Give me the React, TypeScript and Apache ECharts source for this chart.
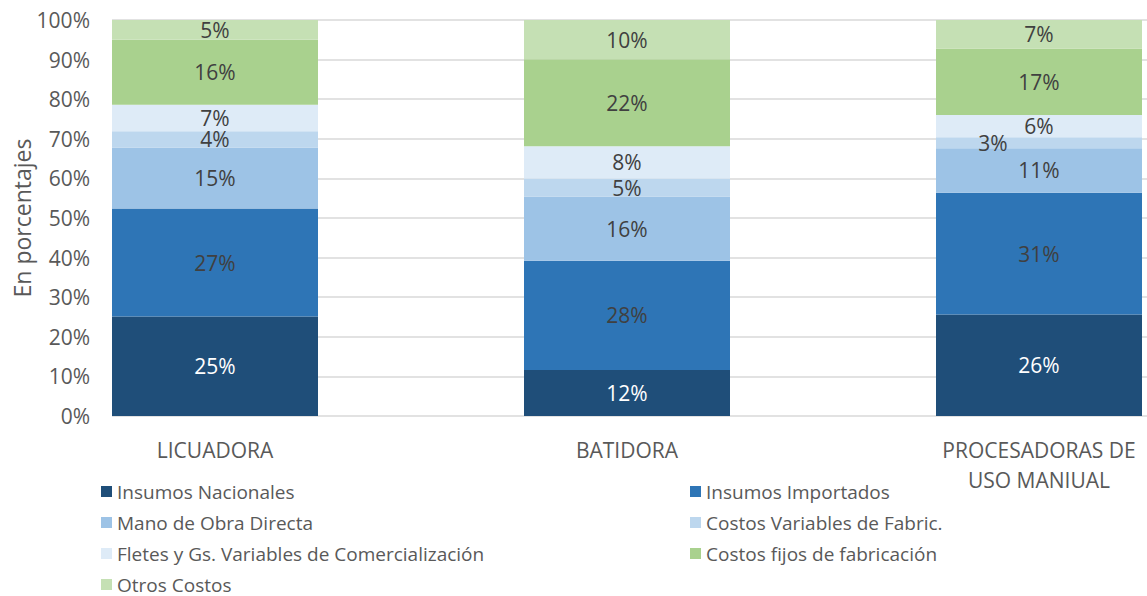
import React, { useEffect, useRef } from "react";
import * as echarts from "echarts";

const categories = ["LICUADORA", "BATIDORA", "PROCESADORAS DE\nUSO MANIUAL"];
const seriesNames = [
  "Insumos Nacionales",
  "Insumos Importados",
  "Mano de Obra Directa",
  "Costos Variables de Fabric.",
  "Fletes y Gs. Variables de Comercialización",
  "Costos fijos de fabricación",
  "Otros Costos",
];
const insumosNacionales = [25.1, 11.6, 25.6];
const insumosImportados = [27.3, 27.6, 30.8];
const manoDeObraDirecta = [15.4, 16.2, 11.2];
const costosVariables = [4.1, 4.6, 2.8];
const fletesComercializacion = [6.7, 8.1, 5.6];
const costosFijos = [16.4, 22.0, 16.8];
const otrosCostos = [5.0, 9.9, 7.2];
const seriesValues = [
  insumosNacionales,
  insumosImportados,
  manoDeObraDirecta,
  costosVariables,
  fletesComercializacion,
  costosFijos,
  otrosCostos,
];
const yAxisTitle = "En porcentajes";
const colors = ["#1F4E79", "#2E75B6", "#9DC3E6", "#BDD7EE", "#DEEBF7", "#A9D18E", "#C5E0B4"];
const leftLegend = [seriesNames[0], seriesNames[2], seriesNames[4], seriesNames[6]];
const rightLegend = [seriesNames[1], seriesNames[3], seriesNames[5]];

const FONT = "'Open Sans', 'Noto Sans', sans-serif";
const GRAY = "#595959";

export default function App() {
  const ref = useRef<HTMLDivElement>(null);
  useEffect(() => {
    if (!ref.current) return;
    const chart = echarts.init(ref.current, null, { renderer: "svg" });
    const series = seriesNames.map((name, i) => ({
      name,
      type: "bar",
      stack: "total",
      xAxisIndex: 1,
      yAxisIndex: 1,
      barWidth: "50%",
      itemStyle: { color: colors[i] },
      label: {
        show: true,
        position: "inside",
        fontFamily: FONT,
        fontSize: 21,
        lineHeight: 16,
        color: i === 0 ? "#FFFFFF" : "#404040",
        formatter: (p: any) => Math.round(p.value) + "%",
      },
      data: seriesValues[i].map((v, j) =>
        i === 3 && j === 2 ? { value: v, label: { offset: [-46, 0] } } : v
      ),
    }));
    const legendBase = {
      orient: "vertical",
      top: 481,
      height: 140,
      padding: 0,
      itemWidth: 11,
      itemHeight: 11,
      itemGap: 10,
      icon: "rect",
      textStyle: { fontFamily: FONT, fontSize: 19, color: GRAY, lineHeight: 21 },
    };
    chart.setOption({
      animation: false,
      textStyle: { fontFamily: FONT },
      grid: [
        { left: 112, right: 0, top: 20, height: 396, outerBoundsMode: "none", containLabel: false },
        { left: 9, width: 1236, top: 20, height: 396, outerBoundsMode: "none", containLabel: false },
      ],
      xAxis: [
        { type: "category", gridIndex: 0, data: categories, show: false },
        {
          type: "category",
          gridIndex: 1,
          data: categories,
          axisLine: { show: false },
          axisTick: { show: false },
          axisLabel: {
            fontFamily: FONT,
            fontSize: 21,
            color: GRAY,
            margin: 19,
            lineHeight: 30,
            interval: 0,
          },
        },
      ],
      yAxis: [
        {
          type: "value",
          gridIndex: 0,
          min: 0,
          max: 100,
          interval: 10,
          axisLine: { show: false },
          axisTick: { show: false },
          axisLabel: {
            formatter: "{value}%",
            fontFamily: FONT,
            fontSize: 21,
            color: GRAY,
            margin: 22,
          },
          splitLine: { lineStyle: { color: "#D9D9D9", width: 1.5 } },
        },
        { type: "value", gridIndex: 1, min: 0, max: 100, show: false },
      ],
      graphic: [
        {
          type: "text",
          x: 22,
          y: 218,
          rotation: Math.PI / 2,
          style: {
            text: yAxisTitle,
            fontFamily: FONT,
            fontSize: 23,
            fill: GRAY,
            align: "center",
            verticalAlign: "middle",
          },
        },
      ],
      legend: [
        { ...legendBase, left: 101, data: leftLegend },
        { ...legendBase, left: 690, data: rightLegend },
      ],
      series,
    });
    return () => chart.dispose();
  }, []);
  return (
    <div
      ref={ref}
      style={{ position: "fixed", left: 0, top: 0, width: 1147, height: 596, background: "#fff", overflow: "hidden" }}
    />
  );
}
